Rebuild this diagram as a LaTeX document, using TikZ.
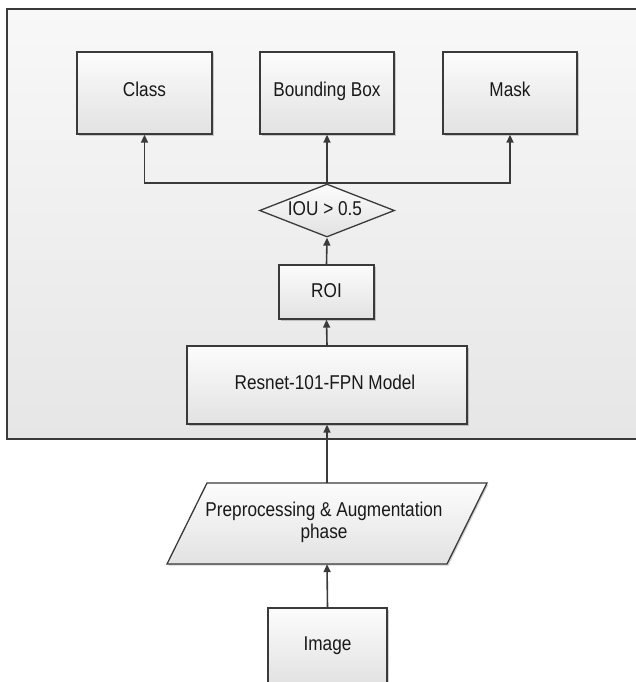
\documentclass[tikz,border=0pt]{standalone}
\usepackage{fontspec}
\setmainfont{Liberation Sans}[FakeStretch=0.86]
\usetikzlibrary{arrows.meta,shapes.geometric,shadows}
\definecolor{linec}{HTML}{3A3A3A}
\definecolor{boxtop}{HTML}{FCFCFC}
\definecolor{boxbot}{HTML}{E2E2E2}
\definecolor{outtop}{HTML}{F8F8F8}
\definecolor{outbot}{HTML}{E6E6E6}
\begin{document}
\begin{tikzpicture}[x=1pt,y=-1pt,
  every node/.style={font=\fontsize{20}{22}\selectfont, text=black!90},
  lbl/.style={text height=14pt, text depth=4pt, inner sep=0pt},
  boxsty/.style={draw=linec, line width=1.3pt, rectangle, inner sep=0pt,
    top color=boxtop, bottom color=boxbot,
    drop shadow={shadow xshift=1.5pt, shadow yshift=-1.5pt, fill=black, opacity=0.18}},
  arr/.style={draw=linec, line width=1.6pt, -{Triangle[length=8pt,width=7pt]}},
  plain/.style={draw=linec, line width=1.6pt}
]
\useasboundingbox (0,0) rectangle (635,682);
% outer container
\path[draw=linec, line width=1.3pt, top color=outtop, bottom color=outbot] (7,9) rectangle (650,439);

% top boxes
\node[boxsty, minimum width=135pt, minimum height=82pt] (class) at (144.5,93) {};
\node[lbl] at (144.5,92) {Class};
\node[boxsty, minimum width=134pt, minimum height=82pt] (bb) at (327,93) {};
\node[lbl] at (327,92) {Bounding Box};
\node[boxsty, minimum width=134pt, minimum height=82pt] (mask) at (510,93) {};
\node[lbl] at (510,92) {Mask};

% diamond
\node[diamond, draw=linec, line width=1.3pt, inner sep=0pt, aspect=2.55,
  minimum width=135pt, minimum height=53pt, top color=boxtop, bottom color=boxbot] (iou) at (327,210.5) {};
\node[lbl] at (325,210) {IOU > 0.5};

% ROI
\node[boxsty, minimum width=95pt, minimum height=54pt] (roi) at (326.5,292) {};
\node[lbl] at (326.5,292) {ROI};

% Resnet
\node[boxsty, minimum width=280pt, minimum height=78pt] (resnet) at (327,385) {};
\node[lbl] at (325,384) {Resnet-101-FPN Model};

% parallelogram
\coordinate (ptl) at (207,483);
\coordinate (ptr) at (487,483);
\coordinate (pbr) at (447,564);
\coordinate (pbl) at (167,564);
\fill[black, opacity=0.18] ([xshift=1.5pt,yshift=-1.5pt]ptl) -- ([xshift=1.5pt,yshift=-1.5pt]ptr) -- ([xshift=1.5pt,yshift=-1.5pt]pbr) -- ([xshift=1.5pt,yshift=-1.5pt]pbl) -- cycle;
\path[draw=linec, line width=1.3pt, top color=boxtop, bottom color=boxbot, line join=miter] (ptl) -- (ptr) -- (pbr) -- (pbl) -- cycle;
\node[minimum width=240pt, minimum height=81pt, inner sep=0pt] (prep) at (327,523.5) {};
\node[align=center, inner sep=0pt] at (324,522) {Preprocessing \& Augmentation\\phase};

% Image
\node[boxsty, minimum width=119pt, minimum height=76pt] (img) at (327.5,646) {};
\node[lbl] at (327.5,645) {Image};

% connectors
\coordinate (j) at (327,183);
\draw[arr] (img.north) -- (prep.south);
\draw[arr] (prep.north) -- (resnet.south);
\draw[arr] (resnet.north) -- (roi.south);
\draw[arr] (roi.north) -- (iou.south);
\draw[plain] (iou.north) -- (j);
\draw[arr] (j) -- (bb.south);
\draw[arr] (j) -| (class.south);
\draw[arr] (j) -| (mask.south);
\end{tikzpicture}
\end{document}
